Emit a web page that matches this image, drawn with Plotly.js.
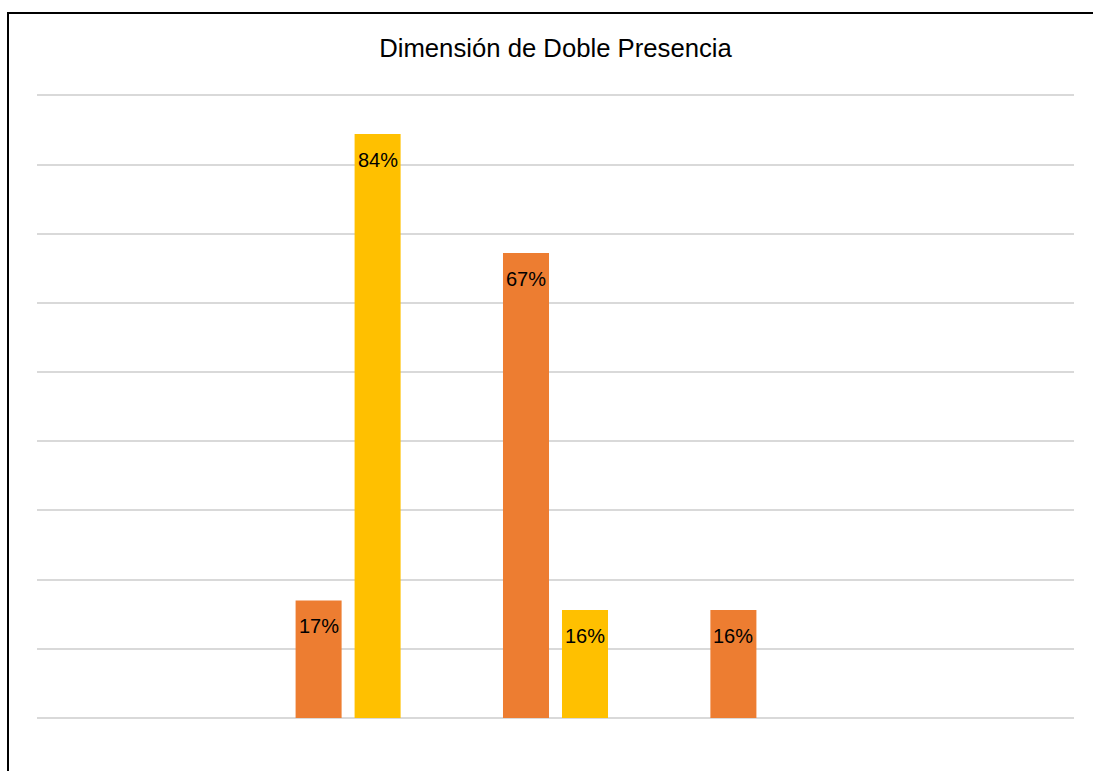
<!DOCTYPE html>
<html>
<head>
<meta charset="utf-8">
<script src="https://cdn.plot.ly/plotly-3.0.1.min.js"></script>
<style>
  html, body { margin: 0; padding: 0; background: #ffffff; overflow: hidden; }
  #wrap { position: relative; width: 1093px; height: 771px; overflow: hidden; }
  #chart { position: absolute; left: 0; top: 0; width: 1093px; height: 771px; }
  .edge { position: absolute; background: #000; pointer-events: none; }
  #edgeTop { left: 7px; top: 12px; width: 1086px; height: 2px; }
  #edgeLeft { left: 7px; top: 12px; width: 2px; height: 759px; }
</style>
</head>
<body>
<div id="wrap">
  <div id="chart"></div>
  <div id="edgeTop" class="edge"></div>
  <div id="edgeLeft" class="edge"></div>
</div>
<script>
// Data
const categories = ['A', 'B', 'C', 'D', 'E'];
const seriesOrange = [null, 0.170, 0.672, 0.156, null];
const seriesYellow = [null, 0.844, 0.156, null, null];
const chartTitle = 'Dimensión de Doble Presencia';

const W = 1093, H = 771;
const margin = { l: 37, r: 19, t: 94, b: 53 };
const bargap = 0.431;
const labelFont = { family: 'Liberation Sans, Arial, sans-serif', size: 20, color: '#000000' };

function barTrace(values, color, name) {
  return {
    type: 'bar',
    name: name,
    x: categories,
    y: values,
    marker: { color: color },
    hoverinfo: 'skip'
  };
}

const data = [
  barTrace(seriesOrange, '#ED7D31', 'Serie 1'),
  barTrace(seriesYellow, '#FFC000', 'Serie 2')
];

// data labels placed inside the top of each bar
const catWidthPx = (W - margin.l - margin.r) / categories.length;
const barSlotPx = catWidthPx * (1 - bargap) / 2;
const annotations = [];
[seriesOrange, seriesYellow].forEach(function (vals, si) {
  const shift = (si === 0 ? -0.5 : 0.5) * barSlotPx;
  vals.forEach(function (v, i) {
    if (v === null) return;
    annotations.push({
      x: categories[i], y: v, xref: 'x', yref: 'y',
      text: Math.round(v * 100) + '%',
      showarrow: false,
      xanchor: 'center', yanchor: 'top',
      xshift: shift, yshift: -13,
      font: labelFont
    });
  });
});

const layout = {
  width: W,
  height: H,
  paper_bgcolor: '#ffffff',
  plot_bgcolor: '#ffffff',
  margin: margin,
  showlegend: false,
  barmode: 'group',
  bargap: bargap,
  bargroupgap: 0.22,
  annotations: annotations,
  title: {
    text: chartTitle,
    font: { family: 'Liberation Sans, Arial, sans-serif', size: 25.7, color: '#000000' },
    x: 0.5, xref: 'paper', xanchor: 'center',
    y: 1 - 48 / H, yref: 'container', yanchor: 'middle'
  },
  xaxis: {
    type: 'category',
    showticklabels: false,
    showgrid: false,
    zeroline: false,
    showline: false,
    ticks: ''
  },
  yaxis: {
    range: [0, 0.902],
    dtick: 0.1,
    showticklabels: false,
    showgrid: true,
    gridcolor: '#d9d9d9',
    gridwidth: 2,
    zeroline: true,
    zerolinecolor: '#d9d9d9',
    zerolinewidth: 2,
    showline: false,
    ticks: ''
  }
};

Plotly.newPlot('chart', data, layout, { staticPlot: true, displayModeBar: false });
</script>
</body>
</html>
